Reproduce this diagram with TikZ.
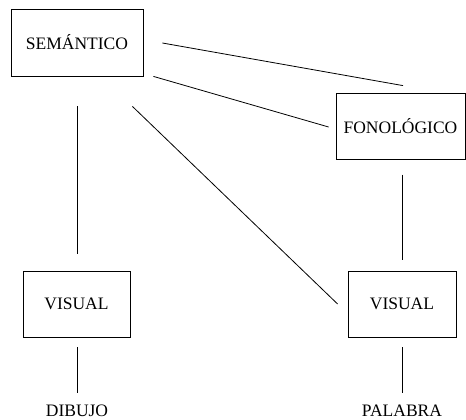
\documentclass[tikz,border=0pt]{standalone}
\usepackage{fontspec}
\setmainfont{Liberation Serif}
\usetikzlibrary{calc}
\begin{document}
\begin{tikzpicture}[x=1pt,y=-1pt,
  box/.style={draw,line width=0.8pt,inner sep=0pt,font=\fontsize{17.5}{20}\selectfont},
  lbl/.style={inner sep=0pt,font=\fontsize{17.5}{20}\selectfont},
  conn/.style={line width=0.8pt}]
\useasboundingbox (0,0) rectangle (466,420);
\node[box,minimum width=132pt,minimum height=67pt] (sem) at (77,42.5) {SEMÁNTICO};
\node[box,minimum width=129pt,minimum height=66pt] (fon) at (400.5,126) {FONOLÓGICO};
\node[box,minimum width=107pt,minimum height=66pt] (vl) at (76.5,304) {VISUAL};
\node[box,minimum width=108pt,minimum height=66pt] (vr) at (402,304) {VISUAL};
\node[lbl,anchor=base] (dib) at (77,416.5) {DIBUJO};
\node[lbl,anchor=base] (pal) at (402,416.5) {PALABRA};
\draw[conn] ($(sem.east)+(19,0.5)$) -- ($(fon.north)+(2.5,-7)$);
\draw[conn] ($(sem.south east)+(10,0)$) -- ($(fon.west)+(-7,1)$);
\draw[conn] ($(sem.south east)+(-11,30)$) -- ($(vr.west)+(-10,0)$);
\draw[conn] ($(sem.south)+(0,30)$) -- ($(sem.south)+(0,178)$);
\draw[conn] ($(vr.north)+(0,-96)$) -- ($(vr.north)+(0,-11)$);
\draw[conn] ($(vl.south)+(0.5,10)$) -- ($(vl.south)+(0.5,56)$);
\draw[conn] ($(vr.south)+(0,10)$) -- ($(vr.south)+(0,56)$);
\end{tikzpicture}
\end{document}
